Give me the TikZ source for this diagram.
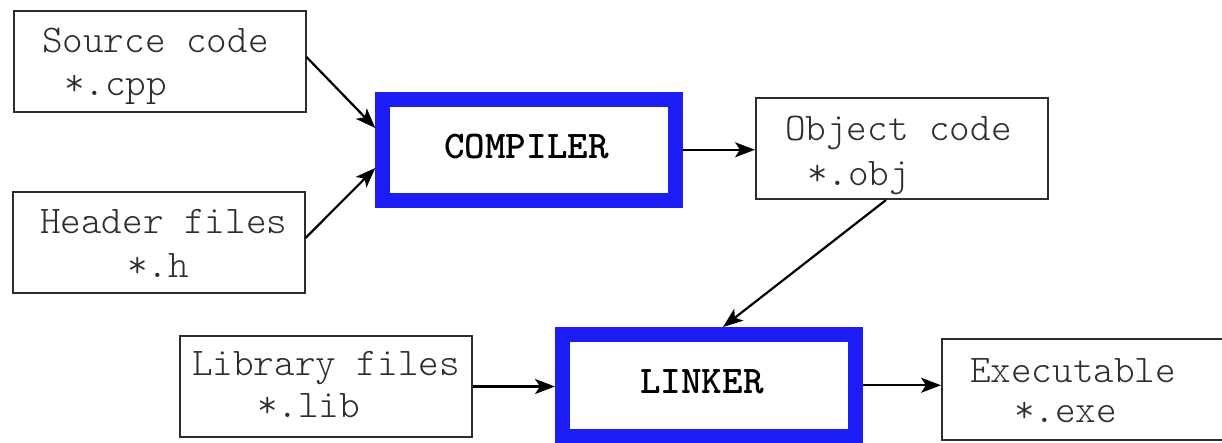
\documentclass[tikz,border=0pt]{standalone}
\usepackage{fontspec}
\setmonofont{lmmonolt10-regular.otf}[BoldFont=lmmonolt10-bold.otf]
\usetikzlibrary{arrows.meta}
\definecolor{boxblue}{RGB}{28,28,245}
\definecolor{txtgray}{RGB}{45,45,45}
\definecolor{linegray}{RGB}{45,45,45}
\begin{document}
\begin{tikzpicture}[x=1pt,y=-1pt,
  file/.style={draw=linegray,line width=2pt,minimum width=292pt,minimum height=101pt,inner sep=0pt},
  tool/.style={draw=boxblue,line width=15pt,minimum width=293pt,minimum height=101.5pt,inner sep=0pt},
  ftxt/.style={anchor=base west,inner sep=0pt,font=\fontsize{39.2}{44}\selectfont\ttfamily,text=txtgray},
  ttxt/.style={anchor=base west,inner sep=0pt,font=\fontsize{39.2}{44}\selectfont\ttfamily\bfseries,text=black},
  conn/.style={line width=2.2pt,-{Stealth[length=20pt,width=15pt,inset=5pt]}}]
\clip (0,0) rectangle (1222,442);
\fill[white] (0,0) rectangle (1222,442);
% boxes
\node[file] (src) at (159.5,61.5) {};
\node[file] (hdr) at (158.5,242.5) {};
\node[tool] (comp) at (529.25,149.75) {};
\node[file] (obj) at (902,148.5) {};
\node[file] (lib) at (326,386.5) {};
\node[tool] (lnk) at (709,385.25) {};
\node[file] (exe) at (1088,389) {};
% texts
\node[ftxt] (srcA) at (42,52) {Source code};
\node[ftxt] (srcB) at (64,95) {*.cpp};
\node[ftxt] (hdrA) at (40,233) {Header files};
\node[ftxt] (hdrB) at (127,277) {*.h};
\node[ftxt] (objA) at (785,140) {Object code};
\node[ftxt] (objB) at (807,185) {*.obj};
\node[ftxt] (libA) at (192,375) {Library files};
\node[ftxt] (libB) at (257,417) {*.lib};
\node[ftxt] (exeA) at (970,382) {Executable};
\node[ftxt] (exeB) at (1014,422) {*.exe};
\node[ttxt] (compT) at (444,158) {COMPILER};
\node[ttxt] (lnkT) at (640,393) {LINKER};
% connectors
\draw[conn] ([yshift=4.5pt]src.east) -- ([yshift=21.75pt]comp.west);
\draw[conn] ([yshift=4.5pt]hdr.east) -- ([yshift=-18.25pt]comp.west);
\draw[conn] (comp.east) -- (comp.east -| obj.west);
\draw[conn] ([xshift=-16pt]obj.south) -- ([xshift=14pt]lnk.north);
\draw[conn] (lib.east) -- (lib.east -| lnk.west);
\draw[conn] (lnk.east) -- (lnk.east -| exe.west);
\end{tikzpicture}
\end{document}
